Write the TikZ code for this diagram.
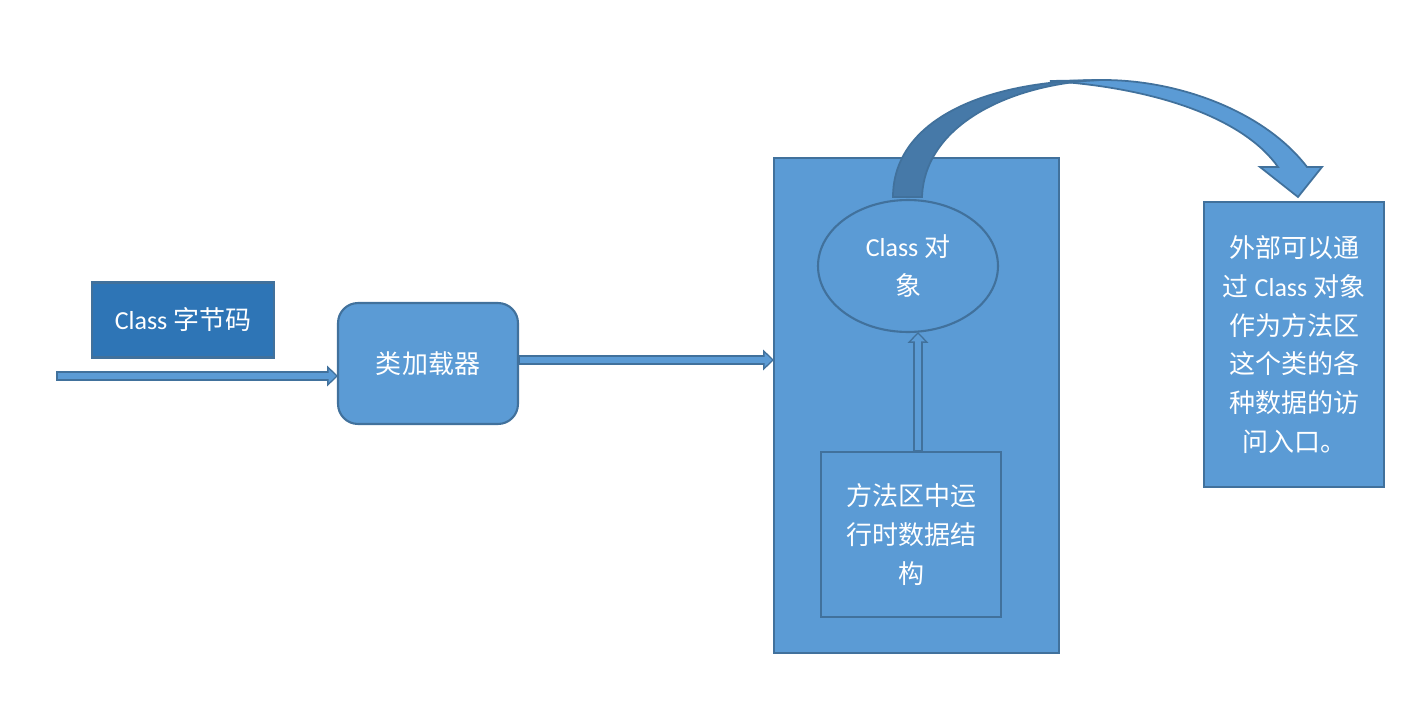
\documentclass[tikz,border=0pt]{standalone}
\usepackage{fontspec}
\setmainfont{Noto Sans CJK SC}
\newfontfamily\latinfont{Carlito}
\usetikzlibrary{arrows.meta, shapes.geometric}
\definecolor{boxblue}{RGB}{91,155,213}
\definecolor{edgeblue}{RGB}{65,113,156}
\definecolor{darkblue}{RGB}{46,117,182}
\definecolor{shadeblue}{RGB}{70,121,168}

\begin{document}
\begin{tikzpicture}[
  x = 0.02cm, y = -0.02cm,
  line width = 1.2pt,
  font = \fontsize{14.8pt}{22pt}\selectfont,
  box/.style = {draw = edgeblue, fill = boxblue, text = white,
    inner sep = 0pt, outer sep = 0pt, align = center},
  blockarrow/.style = {
    draw = boxblue, line width = 3.2pt,
    shorten < = 0.9pt, shorten > = 1.2pt,
    -{Triangle[length = 4.1pt, width = 7.9pt, line width = 0pt]},
    preaction = {draw = edgeblue, line width = 5.4pt,
      shorten < = 0pt, shorten > = 0pt,
      -{Triangle[length = 6.2pt, width = 11.9pt, line width = 0pt]}}},
  ]

  \useasboundingbox (0, 0) rectangle (1417, 713);

  \node at (183, 320)
  [box, fill = darkblue, minimum width = 3.64cm, minimum height = 1.5cm,
   name = Bytecode] {{\latinfont Class} 字节码};

  \node at (428, 363.5)
  [box, rounded corners = 0.4cm, minimum width = 3.6cm, minimum height = 2.42cm,
   name = Loader] {类加载器};

  \node at (916.5, 405.5)
  [box, minimum width = 5.7cm, minimum height = 9.9cm, name = MethodArea] {};

  \node at (908, 266)
  [box, ellipse, minimum width = 3.6cm, minimum height = 2.64cm,
   name = ClassObject] {{\latinfont Class} 对\\象};

  \node at (911, 534.5)
  [box, minimum width = 3.6cm, minimum height = 3.3cm,
   name = RuntimeData] {方法区中运\\行时数据结\\构};

  \node at (1294, 344.5)
  [box, minimum width = 3.6cm, minimum height = 5.7cm,
   name = Access] {外部可以通\\过 {\latinfont Class} 对象\\作为方法区\\这个类的各\\种数据的访\\问入口。};

  \coordinate (Input) at (56, 376);

  \draw [blockarrow] (Input) to (Input -| Loader.west);

  \draw [blockarrow] ([yshift = 0.07cm] Loader.east)
    to ([yshift = 0.07cm] Loader.east -| MethodArea.west);

  \draw [blockarrow] ([xshift = 0.14cm] RuntimeData.north)
    to ([xshift = 0.14cm] RuntimeData.north |- ClassObject.south);

  \draw [draw = edgeblue, fill = boxblue, line width = 1pt, line join = miter]
    (1103, 80) .. controls (1180, 80) and (1265, 112) .. (1307, 167)
    -- (1322, 167) -- (1298, 197) -- (1260, 167) -- (1278, 167)
    .. controls (1245, 120) and (1160, 88) .. (1050, 81) -- cycle;

  \draw [draw = edgeblue, fill = shadeblue, line width = 1pt]
    (893, 197) .. controls (893, 120) and (985, 80) .. (1103, 80)
    .. controls (1020, 82) and (925, 120) .. (922, 197) -- cycle;

\end{tikzpicture}
\end{document}
